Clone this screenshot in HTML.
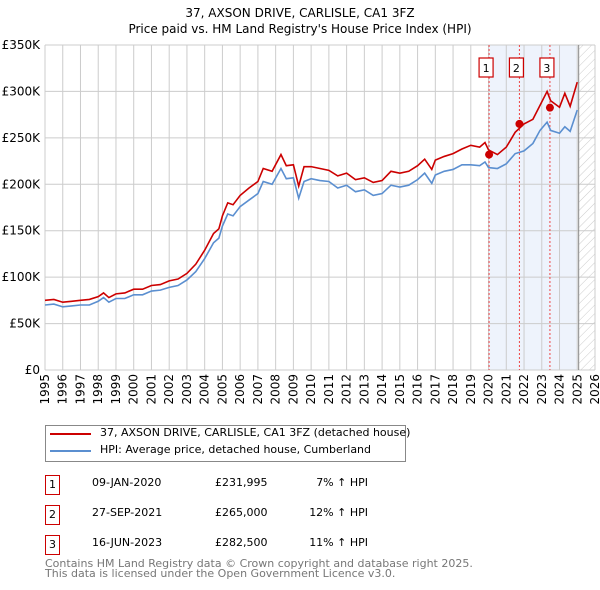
<!DOCTYPE html>
<html><head><meta charset="utf-8"><style>
body{margin:0;background:#fff;font-family:"DejaVu Sans","Liberation Sans",sans-serif;}
#wrap{position:relative;width:600px;height:590px;overflow:hidden;}
.t{position:absolute;white-space:nowrap;font-size:12px;color:#000;}
.box{position:absolute;width:13px;height:18px;border:1.5px solid #c00;font-size:11px;text-align:center;line-height:18px;}
</style></head><body>
<div id="wrap">
<svg id="chart" width="600" height="410" style="position:absolute;left:0;top:0" font-family="DejaVu Sans, Liberation Sans, sans-serif"></svg>
<div style="position:absolute;left:45px;top:425px;width:359px;height:35px;border:1px solid #888;"></div>
<div style="position:absolute;left:50px;top:433px;width:41px;height:2px;background:#cc0000"></div>
<div class="t" style="left:100px;top:426px;font-size:11px">37, AXSON DRIVE, CARLISLE, CA1 3FZ (detached house)</div>
<div style="position:absolute;left:50px;top:450px;width:41px;height:2px;background:#5b8fd0"></div>
<div class="t" style="left:100px;top:443px;font-size:11px">HPI: Average price, detached house, Cumberland</div>

<div class="box" style="left:45px;top:475px">1</div>
<div class="t" style="left:92px;top:476px;font-size:11px">09-JAN-2020</div>
<div class="t" style="left:215px;top:476px;font-size:11px">£231,995</div>
<div class="t" style="left:300px;width:68px;text-align:right;top:476px;font-size:11px">7% ↑ HPI</div>
<div class="box" style="left:45px;top:505px">2</div>
<div class="t" style="left:92px;top:506px;font-size:11px">27-SEP-2021</div>
<div class="t" style="left:215px;top:506px;font-size:11px">£265,000</div>
<div class="t" style="left:300px;width:68px;text-align:right;top:506px;font-size:11px">12% ↑ HPI</div>
<div class="box" style="left:45px;top:535px">3</div>
<div class="t" style="left:92px;top:536px;font-size:11px">16-JUN-2023</div>
<div class="t" style="left:215px;top:536px;font-size:11px">£282,500</div>
<div class="t" style="left:300px;width:68px;text-align:right;top:536px;font-size:11px">11% ↑ HPI</div>
<div class="t" style="left:45px;top:559px;font-size:11px;color:#777;line-height:10px">Contains HM Land Registry data © Crown copyright and database right 2025.<br>This data is licensed under the Open Government Licence v3.0.</div>
</div>
<script>
const dates=[1995.0,1995.5,1996.0,1996.5,1997.0,1997.5,1998.0,1998.3,1998.6,1999.0,1999.5,2000.0,2000.5,2001.0,2001.5,2002.0,2002.5,2003.0,2003.5,2004.0,2004.5,2004.8,2005.0,2005.3,2005.6,2006.0,2006.5,2007.0,2007.3,2007.8,2008.3,2008.6,2009.0,2009.3,2009.6,2010.0,2010.5,2011.0,2011.5,2012.0,2012.5,2013.0,2013.5,2014.0,2014.5,2015.0,2015.5,2016.0,2016.4,2016.8,2017.0,2017.5,2018.0,2018.5,2019.0,2019.5,2019.8,2020.0,2020.5,2021.0,2021.5,2022.0,2022.5,2022.9,2023.3,2023.5,2024.0,2024.3,2024.6,2025.0];
const hpi=[70,71,68,69,70,70,74,78,73,77,77,81,81,85,86,89,91,97,106,120,137,142,155,168,166,176,183,190,203,200,217,206,207,185,203,206,204,203,196,199,192,194,188,190,199,197,199,205,212,201,210,214,216,221,221,220,224,218,217,222,233,236,244,258,267,258,255,262,257,280];
const price=[75,76,73,74,75,76,79,83,78,82,83,87,87,91,92,96,98,104,114,129,147,152,166,180,178,188,196,203,217,214,232,220,221,198,219,219,217,215,209,212,205,207,202,204,214,212,214,220,227,216,226,230,233,238,242,240,245,237,232,240,256,265,270,285,300,290,283,298,284,310];
const saleDates=[2020.03,2021.74,2023.46];
const salePrices=[231.995,265,282.5];
const saleLabels=["1","2","3"];
const yTicks=[0,50,100,150,200,250,300,350];
const yTickLabels=["£0","£50K","£100K","£150K","£200K","£250K","£300K","£350K"];
const years=[];for(let y=1995;y<=2026;y++)years.push(y);
const L=45,R=595,T=45,B=370,x0=1995,x1=2026,ymax=350;
const X=v=>L+(v-x0)/(x1-x0)*(R-L);
const Y=v=>B-v/ymax*(B-T);
const svg=document.getElementById('chart');const NS='http://www.w3.org/2000/svg';
function mk(tag,attrs,name,parent){const e=document.createElementNS(NS,tag);for(const k in attrs)e.setAttribute(k,attrs[k]);


(parent||svg).appendChild(e);return e;}
const defs=mk('defs',{},'defs');
const pat=mk('pattern',{id:'hatch',width:6,height:6,patternUnits:'userSpaceOnUse',patternTransform:'rotate(45)'},'hatch-pattern',defs);
mk('line',{x1:0,y1:0,x2:0,y2:6,stroke:'#ccc','stroke-width':1},'hatch-line',pat);
let t=mk('text',{x:300,y:17,'text-anchor':'middle','font-size':12},'chart-title');t.textContent='37, AXSON DRIVE, CARLISLE, CA1 3FZ';
t=mk('text',{x:300,y:33,'text-anchor':'middle','font-size':12},'chart-subtitle');t.textContent="Price paid vs. HM Land Registry's House Price Index (HPI)";
mk('rect',{x:X(2020),y:T,width:X(2025)-X(2020),height:B-T,fill:'#eef3fc'},'sales-period-shade');
mk('rect',{x:X(2025.1),y:T,width:R-X(2025.1),height:B-T,fill:'url(#hatch)'},'future-hatch');
years.forEach(y=>{mk('line',{x1:X(y),x2:X(y),y1:T,y2:B,stroke:'#ccc','stroke-width':1},'x-grid-'+y);
const xx=X(y)+4,yy=374;
const tx=mk('text',{x:xx,y:yy,'text-anchor':'end','font-size':12,transform:'rotate(-90 '+xx+' '+yy+')'},'x-tick-'+y);tx.textContent=y;});
yTicks.forEach((v,i)=>{mk('line',{x1:L,x2:R,y1:Y(v),y2:Y(v),stroke:'#ccc','stroke-width':1},'y-grid-'+v);
const tx=mk('text',{x:40,y:Y(v)+4,'text-anchor':'end','font-size':12},'y-tick-'+v);tx.textContent=yTickLabels[i];});
mk('line',{x1:X(2025.08),x2:X(2025.08),y1:T,y2:B,stroke:'#888','stroke-width':1},'data-end-line');
saleDates.forEach((d,i)=>{mk('line',{x1:X(d),x2:X(d),y1:T,y2:B,stroke:'#e44','stroke-width':1,'stroke-dasharray':'2,2'},'sale-line-'+(i+1));
mk('rect',{x:X(d)-10,y:58,width:14,height:19,fill:'#fff',stroke:'#c00','stroke-width':1.2},'sale-marker-box-'+(i+1));
const tx=mk('text',{x:X(d)-3,y:72,'text-anchor':'middle','font-size':11},'sale-marker-label-'+(i+1));tx.textContent=saleLabels[i];});
mk('polyline',{points:dates.map((d,i)=>X(d)+','+Y(hpi[i])).join(' '),fill:'none',stroke:'#5b8fd0','stroke-width':1.6},'hpi-line');
mk('polyline',{points:dates.map((d,i)=>X(d)+','+Y(price[i])).join(' '),fill:'none',stroke:'#cc0000','stroke-width':1.6},'price-line');
saleDates.forEach((d,i)=>mk('circle',{cx:X(d),cy:Y(salePrices[i]),r:4,fill:'#cc0000'},'sale-point-'+(i+1)));
</script>
</body></html>
